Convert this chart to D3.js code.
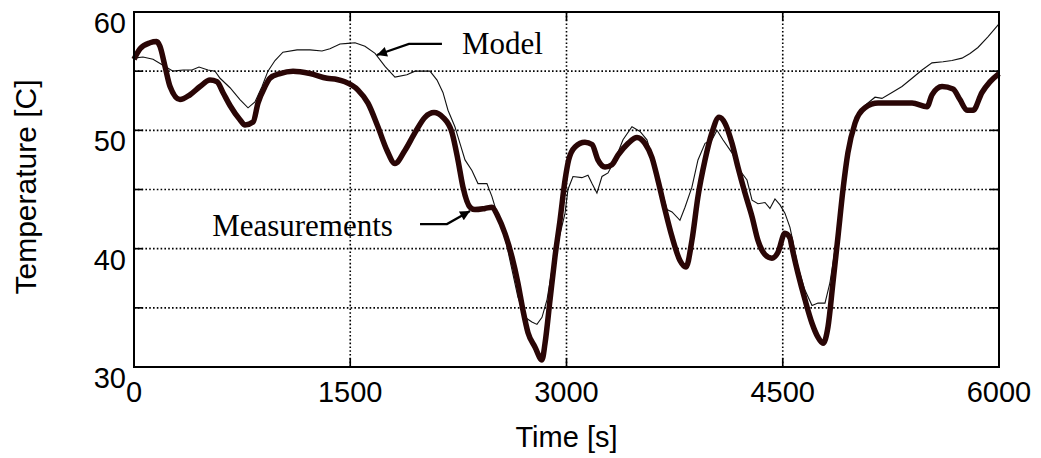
<!DOCTYPE html>
<html>
<head>
<meta charset="utf-8">
<script src="https://cdn.jsdelivr.net/npm/d3@7"></script>
<style>
  html, body { margin: 0; padding: 0; background: #fff; }
  svg { display: block; }
</style>
</head>
<body>
<svg id="chart" width="1041" height="458"></svg>
<script>
// ---- data (time in s, temperature in C) ----
const measTime = [0,42,111,157,180,215,250,319,388,458,527,576,617,666,735,770,826,860,909,943,1013,1103,1221,1339,1408,1463,1554,1623,1692,1755,1810,1879,1949,2018,2081,2143,2206,2247,2282,2331,2365,2435,2483,2525,2573,2622,2663,2698,2733,2781,2830,2851,2886,2920,2955,2990,3015,3059,3128,3177,3218,3267,3315,3357,3427,3489,3544,3593,3634,3683,3732,3787,3829,3870,3912,3961,4009,4058,4099,4148,4189,4238,4287,4328,4377,4425,4467,4515,4550,4564,4606,4654,4703,4745,4779,4814,4848,4883,4918,4952,5001,5070,5161,5279,5397,5501,5535,5605,5681,5729,5778,5820,5882,5937,6000];
const measTemp = [56.0,56.9,57.4,57.5,57.1,55.4,53.7,52.6,53.0,53.7,54.25,54.1,53.2,52.1,50.9,50.45,50.7,52.3,53.7,54.4,54.8,55.0,54.8,54.4,54.3,54.1,53.4,52.3,50.3,48.3,47.2,48.3,49.8,51.1,51.5,51.1,49.8,47.5,45.2,43.5,43.3,43.4,43.5,42.7,41.3,39.3,37.1,34.8,32.9,31.7,30.6,32.0,35.7,39.3,42.4,45.8,47.5,48.6,49.0,48.8,47.5,46.9,47.1,47.9,48.9,49.4,48.9,47.7,45.8,43.3,41.0,39.0,38.45,40.7,44.4,47.5,49.8,51.1,50.6,48.9,46.9,44.7,42.7,40.7,39.5,39.2,39.7,41.3,40.9,40.1,37.9,35.7,33.7,32.5,32.0,33.4,37.1,41.0,45.0,48.1,50.6,51.9,52.3,52.3,52.3,52.0,53.0,53.7,53.5,52.6,51.7,51.7,53.2,54.1,54.8];

const modelTime = [0,62,132,201,271,340,402,451,513,562,597,666,735,791,839,888,929,978,1033,1131,1221,1304,1359,1429,1484,1533,1602,1672,1741,1810,1893,1949,2053,2102,2143,2178,2226,2261,2296,2344,2386,2448,2483,2525,2573,2622,2663,2712,2760,2795,2830,2865,2899,2941,2990,3010,3045,3107,3149,3177,3211,3246,3288,3336,3392,3454,3510,3558,3600,3648,3697,3732,3787,3822,3870,3912,3961,4009,4044,4085,4148,4203,4252,4287,4328,4377,4411,4446,4481,4515,4550,4564,4606,4654,4703,4745,4793,4827,4862,4897,4931,4966,5015,5070,5140,5188,5258,5327,5397,5466,5535,5612,5674,5743,5799,5854,5923,6000];
const modelTemp = [56.1,56.2,56.0,55.5,55.0,55.1,55.1,55.35,55.1,55.0,54.4,53.6,52.6,51.9,52.4,53.7,55.0,55.9,56.6,56.8,56.8,56.7,56.9,57.3,57.35,57.4,57.1,56.5,55.4,54.5,54.7,55.0,55.0,54.25,53.2,51.7,50.3,48.9,47.5,46.6,45.5,45.5,44.4,42.7,41.0,38.2,35.9,34.2,33.8,33.6,34.2,35.7,38.2,40.5,43.0,45.0,46.1,46.0,46.2,45.5,44.7,46.1,46.4,47.5,49.2,50.3,49.9,49.2,47.5,45.5,43.3,43.1,42.4,43.5,45.2,47.5,48.9,49.2,50.0,49.2,48.1,46.6,45.8,44.1,43.8,43.9,43.4,44.2,43.7,43.0,41.8,41.0,38.45,36.5,35.2,35.4,35.4,37.1,39.9,43.3,46.6,49.4,51.1,52.1,52.8,52.7,53.2,53.7,54.4,55.1,55.7,55.8,55.9,56.1,56.5,57.0,57.9,59.0];

const xTicks = [0,1500,3000,4500,6000];
const yTicks = [30,40,50,60];
const yGrid = [35,40,45,50,55];
const xLabel = "Time [s]";
const yLabel = "Temperature [C]";

// annotations in data units
const modelArrow = [[2136,57.30],[1907,57.30],[1685,56.37]];
const modelText = {t:2275, T:56.45, text:"Model"};
const measArrow = [[1984,42.08],[2171,42.08],[2331,43.18]];
const measText = {t:1796, T:41.07, text:"Measurements"};

// ---- layout ----
const L = 134, R = 999, T = 12, B = 367;
const svg = d3.select("#chart");
const x = d3.scaleLinear().domain([0,6000]).range([L,R]);
const y = d3.scaleLinear().domain([30,60]).range([B,T]);

const defs = svg.append("defs");
defs.append("marker").attr("id","arr").attr("viewBox","0 0 10 10")
  .attr("refX",10).attr("refY",5).attr("markerWidth",14).attr("markerHeight",10)
  .attr("markerUnits","userSpaceOnUse").attr("orient","auto")
  .append("path").attr("d","M0,0 L10,5 L0,10 Z").attr("fill","#000");

// grid
const grid = svg.append("g");
grid.selectAll(".hg").data(yGrid).enter().append("line")
  .attr("x1",L).attr("x2",R).attr("y1",d=>y(d)).attr("y2",d=>y(d))
  .attr("stroke","#000").attr("stroke-width",1.6).attr("stroke-dasharray","1.6,2.2");
grid.selectAll(".vg").data(xTicks.slice(1,-1)).enter().append("line")
  .attr("y1",T).attr("y2",B).attr("x1",d=>x(d)).attr("x2",d=>x(d))
  .attr("stroke","#000").attr("stroke-width",1.6).attr("stroke-dasharray","1.6,2.2");

// inward ticks
const tk = svg.append("g").attr("stroke","#000").attr("stroke-width",1.6);
yGrid.forEach(v=>{
  tk.append("line").attr("x1",L).attr("x2",L+9).attr("y1",y(v)).attr("y2",y(v));
  tk.append("line").attr("x1",R).attr("x2",R-9).attr("y1",y(v)).attr("y2",y(v));
});
xTicks.slice(1,-1).forEach(v=>{
  tk.append("line").attr("x1",x(v)).attr("x2",x(v)).attr("y1",B).attr("y2",B-9);
  tk.append("line").attr("x1",x(v)).attr("x2",x(v)).attr("y1",T).attr("y2",T+9);
});

// lines
const lineM = d3.line().x(d=>x(d[0])).y(d=>y(d[1])).curve(d3.curveLinear);
const lineS = d3.line().x(d=>x(d[0])).y(d=>y(d[1])).curve(d3.curveMonotoneX);
const modelData = modelTime.map((t,i)=>[t,modelTemp[i]]);
const measData = measTime.map((t,i)=>[t,measTemp[i]]);
svg.append("path").datum(modelData).attr("d",lineM)
  .attr("fill","none").attr("stroke","#111").attr("stroke-width",1.1);
svg.append("path").datum(measData).attr("d",lineS)
  .attr("fill","none").attr("stroke","#2a0606").attr("stroke-width",5.5).attr("stroke-linejoin","round");

// frame
svg.append("rect").attr("x",L).attr("y",T).attr("width",R-L).attr("height",B-T)
  .attr("fill","none").attr("stroke","#000").attr("stroke-width",2);

// tick labels
const fontSans = "Liberation Sans, Arial, sans-serif";
svg.append("g").selectAll("text").data(xTicks).enter().append("text")
  .attr("x",d=>x(d)).attr("y",B+35).attr("text-anchor","middle")
  .attr("font-family",fontSans).attr("font-size",29).text(d=>d);
svg.append("g").selectAll("text").data(yTicks).enter().append("text")
  .attr("x",L-8).attr("y",d=>y(d)+21).attr("text-anchor","end")
  .attr("font-family",fontSans).attr("font-size",29).text(d=>d);

// axis titles
svg.append("text").attr("x",(L+R)/2).attr("y",447).attr("text-anchor","middle")
  .attr("font-family",fontSans).attr("font-size",29).text(xLabel);
svg.append("text").attr("transform",`translate(36,187) rotate(-90)`)
  .attr("text-anchor","middle").attr("font-family",fontSans).attr("font-size",30).text(yLabel);

// annotations
const aline = d3.line().x(d=>x(d[0])).y(d=>y(d[1]));
svg.append("path").attr("d",aline(modelArrow)).attr("fill","none").attr("stroke","#000")
  .attr("stroke-width",2.2).attr("marker-end","url(#arr)");
svg.append("path").attr("d",aline(measArrow)).attr("fill","none").attr("stroke","#000")
  .attr("stroke-width",2.2).attr("marker-end","url(#arr)");
const fontSerif = "Liberation Serif, Times New Roman, serif";
svg.append("text").attr("x",x(modelText.t)).attr("y",y(modelText.T))
  .attr("font-family",fontSerif).attr("font-size",31).text(modelText.text);
svg.append("text").attr("x",x(measText.t)).attr("y",y(measText.T)).attr("text-anchor","end")
  .attr("font-family",fontSerif).attr("font-size",31).text(measText.text);
</script>
</body>
</html>
